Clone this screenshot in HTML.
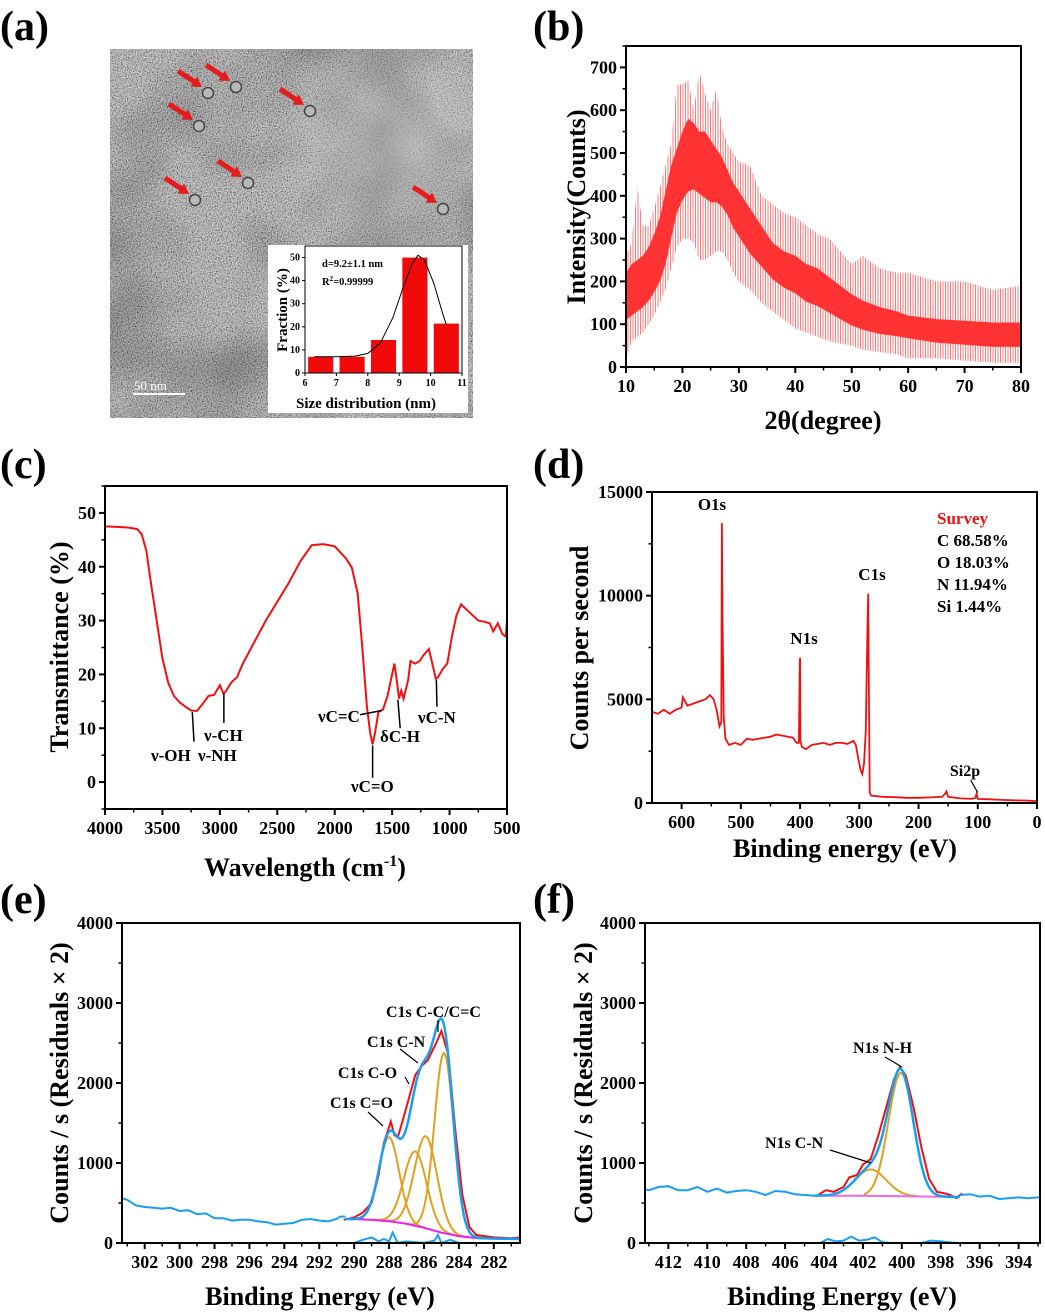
<!DOCTYPE html>
<html><head><meta charset="utf-8">
<style>
html,body{margin:0;padding:0;background:#fff;}
svg{display:block;font-family:"Liberation Serif",serif;font-weight:bold;}
</style></head>
<body>
<svg id="fig" width="1045" height="1313" viewBox="0 0 1045 1313" xmlns="http://www.w3.org/2000/svg">
<defs>
<filter id="noise" x="0" y="0" width="100%" height="100%">
<feTurbulence type="fractalNoise" baseFrequency="0.8" numOctaves="2" seed="3"/>
<feColorMatrix type="matrix" values="1.6 0 0 0 -0.3  1.6 0 0 0 -0.3  1.6 0 0 0 -0.3  0 0 0 0 1"/>
</filter>
<filter id="blotch" x="0" y="0" width="100%" height="100%">
<feTurbulence type="fractalNoise" baseFrequency="0.012" numOctaves="2" seed="7"/>
<feColorMatrix type="matrix" values="0 0 0 0 0  0 0 0 0 0  0 0 0 0 0  0 0 0 -1.2 0.75"/>
</filter>
<radialGradient id="light" cx="0.78" cy="0.25" r="0.35">
<stop offset="0" stop-color="#c8c8c8" stop-opacity="0.7"/>
<stop offset="1" stop-color="#c8c8c8" stop-opacity="0"/>
</radialGradient>
<pattern id="vlines" width="2.5" height="10" patternUnits="userSpaceOnUse">
<rect x="0" y="0" width="1" height="10" fill="#ff4040"/>
</pattern>
</defs>
<g id="root"></g>
</svg>
<script>
// ===== DATA =====
// (a) inset histogram
const histBins = [6.5, 7.5, 8.5, 9.5, 10.5];
const histVals = [7, 7, 14.3, 50, 21.4];
const histFitX = [6.3, 7, 7.6, 8, 8.4, 8.8, 9.1, 9.4, 9.6, 9.8, 10.1, 10.4, 10.5];
const histFitY = [7, 7, 7.3, 8.5, 13, 24, 36, 47, 51, 49, 39, 25, 21];
const particles = [[208,93],[236,87],[199,126],[310,111],[248,183],[195,200],[443,209]];
// (b) XRD
const xrdX = [10,11,12,13,14,15,16,17,18,19,20,21,22,23,24,25,26,27,28,29,30,32,34,36,38,40,42,44,46,48,50,52,55,58,60,65,70,75,80];
const xrdLow = [110,120,130,140,155,175,200,240,300,360,390,410,415,405,395,385,385,375,355,325,305,265,235,205,185,172,152,142,127,112,97,87,77,72,67,57,52,47,47];
const xrdHigh = [220,240,250,260,280,310,350,410,470,510,550,580,570,550,550,530,510,490,460,430,410,370,330,290,270,260,240,230,210,190,170,155,140,130,120,112,108,104,104];
const xrdSpLow = [20,60,70,80,100,120,150,180,230,280,300,300,290,250,250,260,270,270,250,220,200,180,150,130,110,90,80,70,60,55,50,40,35,30,20,20,15,10,10];
const xrdSpHigh = [260,290,420,330,330,370,420,470,520,660,660,670,600,690,640,600,650,560,520,500,480,470,400,380,360,350,330,310,300,270,240,260,230,220,220,200,200,180,190];
// (c) FTIR
const irX = [4000,3900,3800,3720,3680,3640,3600,3550,3500,3450,3400,3350,3300,3250,3200,3150,3100,3050,3000,2970,2950,2900,2850,2800,2700,2600,2500,2400,2300,2250,2200,2100,2000,1900,1850,1800,1760,1720,1690,1670,1650,1620,1580,1540,1500,1480,1460,1440,1420,1400,1360,1340,1300,1260,1230,1180,1150,1120,1100,1060,1020,980,940,900,850,800,750,700,650,620,580,540,510,500];
const irY = [47.5,47.4,47.3,47,46,43,37,30,23,18.5,16,14.8,14,13.3,13.2,14.5,16,16.2,18,16.5,16.8,18.5,19.5,22,26,30,33.5,37,41,42.5,44,44.2,43.8,41.5,39.8,35,25,14,9,7,9,13,13.5,16,20,22,19,15.5,17,15.5,19,22.5,22,22.5,23.5,24.7,22,19.2,19.5,21,22,27,31,33,32,31,30,29.8,29.5,28,29.5,27.5,27,30];
// (d) XPS survey
const svX = [650,640,630,620,610,600,598,590,580,570,560,552,546,541,536,533,532,531,529,526,520,510,500,490,480,470,460,450,440,430,420,412,406,402,400.5,400,399.5,397,390,380,370,360,350,340,330,320,310,306,302,298,295,292,289,286.5,285,284,282.5,280,260,240,220,200,180,160,155,153,150,130,110,104,102,100,80,60,40,20,0];
const svY = [4400,4300,4500,4300,4500,4600,5100,4700,4800,4900,5000,5200,5000,4500,3700,3900,13500,9000,4200,3100,2800,2900,2800,3100,3050,3100,3150,3200,3300,3250,3200,3150,2900,2900,6900,7000,3000,2700,2600,2800,2850,2900,2800,2900,2900,2850,3000,2800,2200,1600,1400,1900,3500,8000,10100,6000,500,350,300,280,250,250,270,300,450,550,300,220,200,250,450,200,180,150,130,120,90];
// (e) C1s
const eCenters = [288.0, 286.5, 285.9, 284.85];
const eAmps = [1050, 930, 1150, 2250];
const eSigmas = [0.58, 0.65, 0.65, 0.55];
const eBgX = [290.5, 290, 289, 288, 287, 286, 285, 284, 283, 282, 281, 280.5];
const eBgY = [300, 298, 290, 272, 240, 190, 130, 85, 62, 55, 52, 50];
const eLeftX = [303.3,303,302.5,302,301.5,301,300.5,300,299.5,299,298.5,298,297.5,297,296.5,296,295.5,295,294.5,294,293.5,293,292.5,292,291.5,291,290.8,290.5];
const eLeftY = [560,540,470,450,440,430,440,400,410,360,370,310,310,280,290,290,270,260,230,240,250,290,300,280,270,300,330,330];
const eRawX = [290.6,290,289.5,289,288.6,288.3,288.0,287.9,287.7,287.5,287.0,286.5,286.1,285.8,285.3,285.0,284.6,284.2,283.8,283.4,283,282,281,280.5];
const eRawY = [290,320,380,500,850,1250,1450,1520,1350,1320,1700,2100,2220,2280,2500,2650,2350,1400,600,200,100,70,60,70];
const eResX = [303.3,290,289.5,289,288.6,288.3,288,287.8,287.5,287,286,285.4,285.2,285,284.5,284,283,280.5];
const eResY = [0,0,40,70,20,50,20,130,0,20,0,30,100,0,40,0,0,0];
// (f) N1s
const fCenters = [401.6, 400.05];
const fAmps = [330, 1540];
const fSigmas = [0.8, 0.64];
const fBgX = [404.5, 402, 400, 398, 397];
const fBgY = [592, 590, 585, 578, 575];
const fLeftX = [413.2,413,412.5,412,411.5,411,410.5,410,409.5,409,408.5,408,407.5,407,406.5,406,405.5,405,404.5];
const fLeftY = [670,660,700,710,660,660,700,640,680,630,650,660,640,600,650,640,610,600,590];
const fRightX = [397,396.5,396,395.5,395,394.5,394,393.5,393,392.9];
const fRightY = [600,610,580,590,550,560,570,560,570,570];
const fRawX = [404.3,403.9,403.5,403,402.7,402.3,402,401.6,401.2,400.8,400.4,400.1,399.8,399.4,399,398.6,398.2,397.8,397.5,397.2,396.9];
const fRawY = [600,660,640,700,820,850,980,1050,1350,1700,2050,2200,2100,1700,1200,800,640,620,600,560,620];
const fResX = [413.2,404.2,403.8,403.4,403,402.6,402.2,401.8,401.4,401,400.6,399,398.5,398,397.6,397.2,392.9];
const fResY = [0,0,50,20,30,80,30,40,70,10,0,0,30,20,10,0,0];

// ===== DRAWING =====
const NS = "http://www.w3.org/2000/svg";
const root = document.getElementById("root");
function mk(tag, attrs, parent, text){
  const e = document.createElementNS(NS, tag);
  for (const k in attrs) e.setAttribute(k, attrs[k]);
  if (text !== undefined) e.textContent = text;
  (parent || root).appendChild(e);
  return e;
}
function gauss(x,c,a,s){ return a*Math.exp(-(x-c)*(x-c)/(2*s*s)); }
function interp(xs, ys, x){
  for (let i=0;i<xs.length-1;i++){
    const a=xs[i], b=xs[i+1];
    if ((x>=a&&x<=b)||(x<=a&&x>=b)){ const t=(x-a)/(b-a); return ys[i]+t*(ys[i+1]-ys[i]); }
  }
  return ys[ys.length-1];
}
function makeAxes(c){
  const g = mk("g", {});
  
  
  c.sx = v => c.x0 + (v-c.xmin)/(c.xmax-c.xmin)*(c.x1-c.x0);
  c.sy = v => c.y1 - (v-c.ymin)/(c.ymax-c.ymin)*(c.y1-c.y0);
  c.g = g;
  return c;
}
function drawFrame(c){
  const g = c.g;
  const fr = mk("rect", {x:c.x0, y:c.y0, width:c.x1-c.x0, height:c.y1-c.y0, fill:"none", stroke:"#000", "stroke-width":2}, g);
  
  
  c.xticks.forEach(v=>{
    const x=c.sx(v);
    mk("line",{x1:x,x2:x,y1:c.y1,y2:c.y1+6,stroke:"#000","stroke-width":2},g);
    const t = mk("text",{x:x,y:c.y1+25,"text-anchor":"middle","font-size":c.fs||18},g,String(v));
    
    
  });
  (c.xminor||[]).forEach(v=>{ const x=c.sx(v); mk("line",{x1:x,x2:x,y1:c.y1,y2:c.y1+3.5,stroke:"#000","stroke-width":1.5},g); });
  c.yticks.forEach(v=>{
    const y=c.sy(v);
    mk("line",{x1:c.x0-6,x2:c.x0,y1:y,y2:y,stroke:"#000","stroke-width":2},g);
    const t = mk("text",{x:c.x0-9,y:y+6,"text-anchor":"end","font-size":c.fs||18},g,String(v));
    
    
  });
  (c.yminor||[]).forEach(v=>{ const y=c.sy(v); mk("line",{x1:c.x0-3.5,x2:c.x0,y1:y,y2:y,stroke:"#000","stroke-width":1.5},g); });
}
function poly(c, xs, ys, attrs, name){
  const pts = xs.map((x,i)=>c.sx(x).toFixed(1)+","+c.sy(ys[i]).toFixed(1)).join(" ");
  const p = mk("polyline", Object.assign({points:pts, fill:"none"}, attrs), c.g);
  
  
  return p;
}
function label(x,y,txt,size,name,opts){
  const t = mk("text", Object.assign({x:x,y:y,"font-size":size}, opts||{}), root, txt);
  
  
  return t;
}
function rotLabel(x,y,txt,size,name){
  const t = mk("text", {x:0,y:0,"font-size":size,"text-anchor":"middle",transform:`translate(${x},${y}) rotate(-90)`}, root, txt);
  
  
  return t;
}
function range(a,b,s){ const r=[]; if(s>0){for(let v=a;v<=b+1e-9;v+=s) r.push(+v.toFixed(4));} else {for(let v=a;v>=b-1e-9;v+=s) r.push(+v.toFixed(4));} return r; }

// panel labels
label(0,40,"(a)",42,"panel-label-a");
label(533,40,"(b)",42,"panel-label-b");
label(0,478,"(c)",42,"panel-label-c");
label(533,478,"(d)",42,"panel-label-d");
label(0,913,"(e)",42,"panel-label-e");
label(533,913,"(f)",42,"panel-label-f");

// ===== (a) TEM image =====
(function(){
  const g = mk("g",{});
  
  
  mk("rect",{x:110,y:49,width:363,height:369,fill:"#8c8c8c"},g);
  mk("rect",{x:110,y:49,width:363,height:369,fill:"#888",filter:"url(#noise)",opacity:0.75},g);
  mk("rect",{x:110,y:49,width:363,height:369,fill:"url(#light)"},g);
  mk("rect",{x:110,y:49,width:363,height:369,fill:"#3a3a3a",filter:"url(#blotch)",opacity:0.4},g);
  particles.forEach(p=>{
    const c = mk("circle",{cx:p[0],cy:p[1],r:5.5,fill:"#b8b8b8",stroke:"#444","stroke-width":1.5},g);
    
    
    const x2=p[0]-6, y2=p[1]-6, x1=x2-24, y1=y2-16;
    const ar = mk("g",{},g);
    
    
    mk("line",{x1:x1,y1:y1,x2:x2-5,y2:y2-3.5,stroke:"#e51c1c","stroke-width":5},ar);
    const ang=Math.atan2(y2-y1,x2-x1), L=10, W=6;
    const bx=x2-L*Math.cos(ang), by=y2-L*Math.sin(ang);
    mk("polygon",{points:`${x2},${y2} ${bx-W*Math.sin(ang)},${by+W*Math.cos(ang)} ${bx+W*Math.sin(ang)},${by-W*Math.cos(ang)}`,fill:"#e51c1c"},ar);
  });
  const sb = mk("line",{x1:133,x2:185,y1:394,y2:394,stroke:"#fff","stroke-width":2},g);
  
  
  const st = mk("text",{x:134,y:390,"font-size":13,fill:"#fff","font-weight":"normal"},g,"50 nm");
  
  
  // inset
  const ib = mk("rect",{x:268,y:245,width:200,height:168,fill:"#fff"},g);
  
  
  const c = makeAxes({name:"inset-histogram", x0:305,x1:462,y0:246,y1:373, xmin:6,xmax:11, ymin:0,ymax:55,
    xticks:[6,7,8,9,10,11], yticks:[0,10,20,30,40,50], fs:9});
  histBins.forEach((b,i)=>{
    const r = mk("rect",{x:c.sx(b-0.4),y:c.sy(histVals[i]),width:c.sx(b+0.4)-c.sx(b-0.4),height:c.sy(0)-c.sy(histVals[i]),fill:"#f00a0a"},c.g);
    
    
  });
  poly(c, histFitX, histFitY, {stroke:"#000","stroke-width":1}, "gaussian-fit-line");
  mk("rect",{x:305,y:246,width:157,height:127,fill:"none",stroke:"#000","stroke-width":1},c.g);
  c.xticks.forEach(v=>{ const x=c.sx(v); mk("line",{x1:x,x2:x,y1:373,y2:376,stroke:"#000"},c.g);
    const t=mk("text",{x:x,y:386,"text-anchor":"middle","font-size":10},c.g,String(v));
      });
  c.yticks.forEach(v=>{ const y=c.sy(v); mk("line",{x1:302,x2:305,y1:y,y2:y,stroke:"#000"},c.g);
    const t=mk("text",{x:300,y:y+3,"text-anchor":"end","font-size":10},c.g,String(v));
      });
  label(322,267,"d=9.2±1.1 nm",10.5,"inset-annotation-d");
  const r2 = label(322,285,"R",10.5,"inset-annotation-r2");
  mk("tspan",{dy:-4,"font-size":7},r2,"2");
  mk("tspan",{dy:4},r2,"=0.99999");
  rotLabel(287,310,"Fraction (%)",15,"inset-y-axis-title");
  label(366,408,"Size distribution (nm)",15,"inset-x-axis-title",{"text-anchor":"middle"});
})();

// ===== (b) XRD =====
(function(){
  const c = makeAxes({name:"xrd-chart", x0:626,x1:1021,y0:46,y1:367, xmin:10,xmax:80, ymin:0,ymax:750,
    xticks:range(10,80,10), yticks:range(0,700,100), xminor:range(15,75,10), yminor:range(50,750,100)});
  const mkBand=(lo,hi,attrs,name)=>{
    const pts = xrdX.map((x,i)=>c.sx(x).toFixed(1)+","+c.sy(hi[i]).toFixed(1))
      .concat(xrdX.slice().reverse().map((x,j)=>{const i=xrdX.length-1-j; return c.sx(x).toFixed(1)+","+c.sy(lo[i]).toFixed(1);}));
    const p = mk("polygon",Object.assign({points:pts.join(" ")},attrs),c.g);
    
    
  };
  mkBand(xrdSpLow, xrdSpHigh, {fill:"url(#vlines)",opacity:0.7}, "xrd-noise-spikes");
  mkBand(xrdLow, xrdHigh, {fill:"#ff3333"}, "xrd-signal-band");
  drawFrame(c);
  rotLabel(585,207,"Intensity(Counts)",26,"y-axis-title-b");
  label(823,429,"2θ(degree)",26,"x-axis-title-b",{"text-anchor":"middle"});
})();

// ===== (c) FTIR =====
(function(){
  const c = makeAxes({name:"ftir-chart", x0:105,x1:507,y0:486,y1:809, xmin:4000,xmax:500, ymin:-5,ymax:55,
    xticks:range(4000,500,-500), yticks:range(0,50,10), xminor:range(3750,750,-500), yminor:range(-5,55,10)});
  poly(c, irX, irY, {stroke:"#f01010","stroke-width":2}, "ftir-spectrum-line");
  drawFrame(c);
  const L=(x1,y1,x2,y2)=>{const l=mk("line",{x1:x1,y1:y1,x2:x2,y2:y2,stroke:"#000","stroke-width":1.5},c.g);
     };
  L(c.sx(3240),c.sy(13),c.sx(3225),c.sy(7.5));
  L(c.sx(2965),c.sy(16.5),c.sx(2965),c.sy(11));
  L(c.sx(1670),c.sy(6.8),c.sx(1670),c.sy(0.8));
  L(c.sx(1450),c.sy(15.3),c.sx(1430),c.sy(10));
  L(c.sx(1115),c.sy(19),c.sx(1110),c.sy(14));
  L(c.sx(1780),c.sy(12.5),c.sx(1590),c.sy(13.3));
  label(151,761,"ν-OH",17,"annotation-v-oh");
  label(198,761,"ν-NH",17,"annotation-v-nh");
  label(204,741,"ν-CH",17,"annotation-v-ch");
  label(351,792,"νC=O",17,"annotation-vc-o");
  label(318,722,"νC=C",17,"annotation-vc-c");
  label(380,742,"δC-H",17,"annotation-dc-h");
  label(418,723,"νC-N",17,"annotation-vc-n");
  rotLabel(68,647,"Transmittance (%)",26,"y-axis-title-c");
  const xt = label(305,876,"Wavelength (cm",26,"x-axis-title-c",{"text-anchor":"middle"});
  mk("tspan",{dy:-10,"font-size":16},xt,"-1");
  mk("tspan",{dy:10},xt,")");
})();

// ===== (d) XPS survey =====
(function(){
  const c = makeAxes({name:"xps-survey-chart", x0:652,x1:1037,y0:492,y1:803, xmin:650,xmax:0, ymin:0,ymax:15000,
    xticks:range(600,0,-100), yticks:[0,5000,10000,15000], xminor:range(550,50,-100), yminor:range(2500,12500,2500)});
  poly(c, svX, svY, {stroke:"#f01010","stroke-width":1.8}, "survey-spectrum-line");
  drawFrame(c);
  const l=mk("line",{x1:c.sx(112),y1:c.sy(1100),x2:c.sx(100),y2:c.sy(500),stroke:"#000","stroke-width":1.2},c.g);
   
  label(712,510,"O1s",17,"peak-label-o1s",{"text-anchor":"middle"});
  label(804,644,"N1s",17,"peak-label-n1s",{"text-anchor":"middle"});
  label(872,580,"C1s",17,"peak-label-c1s",{"text-anchor":"middle"});
  label(965,776,"Si2p",16,"peak-label-si2p",{"text-anchor":"middle"});
  label(937,524,"Survey",17,"legend-title-survey",{fill:"#f01010"});
  label(937,546,"C 68.58%",17,"composition-c");
  label(937,568,"O 18.03%",17,"composition-o");
  label(937,590,"N 11.94%",17,"composition-n");
  label(937,612,"Si 1.44%",17,"composition-si");
  rotLabel(588,648,"Counts per second",26,"y-axis-title-d");
  label(845,857,"Binding energy (eV)",26,"x-axis-title-d",{"text-anchor":"middle"});
})();

// ===== (e) C1s =====
(function(){
  const c = makeAxes({name:"c1s-chart", x0:122,x1:520,y0:923,y1:1243, xmin:303.3,xmax:280.5, ymin:0,ymax:4000,
    xticks:range(302,282,-2), yticks:[0,1000,2000,3000,4000], xminor:range(303,281,-2), yminor:range(500,3500,1000)});
  const xs=[]; for(let x=290.5;x>=280.5;x-=0.05) xs.push(+x.toFixed(2));
  const bg = xs.map(x=>interp(eBgX,eBgY,x));
  poly(c, eRawX, eRawY, {stroke:"#f01010","stroke-width":2}, "c1s-raw-data");
  eCenters.forEach((cc,i)=>{
    const cx = xs.filter(x=>Math.abs(x-cc)<3*eSigmas[i]+0.6);
    poly(c, cx, cx.map(x=>interp(eBgX,eBgY,x)+gauss(x,cc,eAmps[i],eSigmas[i])), {stroke:"#e0a020","stroke-width":2}, "c1s-component-"+i);
  });
  poly(c, xs.filter(x=>x<=290.5 && x>=282.5), xs.filter(x=>x<=290.5 && x>=282.5).map(x=>interp(eBgX,eBgY,x)), {stroke:"#ee22ee","stroke-width":2}, "c1s-background");
  const env = xs.map((x,k)=>bg[k]+eCenters.reduce((s,cc,i)=>s+gauss(x,cc,eAmps[i],eSigmas[i]),0));
  poly(c, xs, env, {stroke:"#1a9ef0","stroke-width":2.5}, "c1s-envelope");
  poly(c, eLeftX, eLeftY, {stroke:"#1a9ef0","stroke-width":2}, "c1s-left-data");
  poly(c, eResX, eResY, {stroke:"#1a9ef0","stroke-width":2}, "c1s-residuals");
  drawFrame(c);
  const L=(x1,y1,x2,y2)=>{const l=mk("line",{x1:x1,y1:y1,x2:x2,y2:y2,stroke:"#000","stroke-width":1.2},c.g);
     };
  L(368,1112,383,1126); L(405,1077,409,1084); L(400,1049,418,1063); L(438,1020,438,1032);
  label(330,1108,"C1s C=O",16,"annotation-c-o-double");
  label(338,1078,"C1s C-O",16,"annotation-c-o");
  label(367,1047,"C1s C-N",16,"annotation-c-n");
  label(386,1017,"C1s C-C/C=C",16,"annotation-c-c");
  rotLabel(68,1083,"Counts / s  (Residuals × 2)",26,"y-axis-title-e");
  label(320,1305,"Binding Energy (eV)",26,"x-axis-title-e",{"text-anchor":"middle"});
})();

// ===== (f) N1s =====
(function(){
  const c = makeAxes({name:"n1s-chart", x0:645,x1:1040,y0:923,y1:1243, xmin:413.2,xmax:392.9, ymin:0,ymax:4000,
    xticks:range(412,394,-2), yticks:[0,1000,2000,3000,4000], xminor:range(413,393,-2), yminor:range(500,3500,1000)});
  const xs=[]; for(let x=404.5;x>=397;x-=0.04) xs.push(+x.toFixed(2));
  const bg = xs.map(x=>interp(fBgX,fBgY,x));
  poly(c, fRawX, fRawY, {stroke:"#f01010","stroke-width":2}, "n1s-raw-data");
  fCenters.forEach((cc,i)=>{
    const cx = xs.filter(x=>Math.abs(x-cc)<3*fSigmas[i]);
    poly(c, cx, cx.map(x=>interp(fBgX,fBgY,x)+gauss(x,cc,fAmps[i],fSigmas[i])), {stroke:"#e0a020","stroke-width":2}, "n1s-component-"+i);
  });
  poly(c, xs, bg, {stroke:"#ee66ee","stroke-width":2}, "n1s-background");
  const env = xs.map((x,k)=>bg[k]+fCenters.reduce((s,cc,i)=>s+gauss(x,cc,fAmps[i],fSigmas[i]),0));
  poly(c, xs, env, {stroke:"#1a9ef0","stroke-width":2.5}, "n1s-envelope");
  poly(c, fLeftX, fLeftY, {stroke:"#1a9ef0","stroke-width":2}, "n1s-left-data");
  poly(c, fRightX, fRightY, {stroke:"#1a9ef0","stroke-width":2}, "n1s-right-data");
  poly(c, fResX, fResY, {stroke:"#1a9ef0","stroke-width":2}, "n1s-residuals");
  drawFrame(c);
  const L=(x1,y1,x2,y2)=>{const l=mk("line",{x1:x1,y1:y1,x2:x2,y2:y2,stroke:"#000","stroke-width":1.2},c.g);
     };
  L(830,1150,871,1163); L(885,1057,902,1067);
  label(765,1148,"N1s C-N",16,"annotation-n-c-n");
  label(853,1053,"N1s N-H",16,"annotation-n-h");
  rotLabel(592,1083,"Counts / s  (Residuals × 2)",26,"y-axis-title-f");
  label(842,1305,"Binding Energy (eV)",26,"x-axis-title-f",{"text-anchor":"middle"});
})();
</script>
</body></html>
